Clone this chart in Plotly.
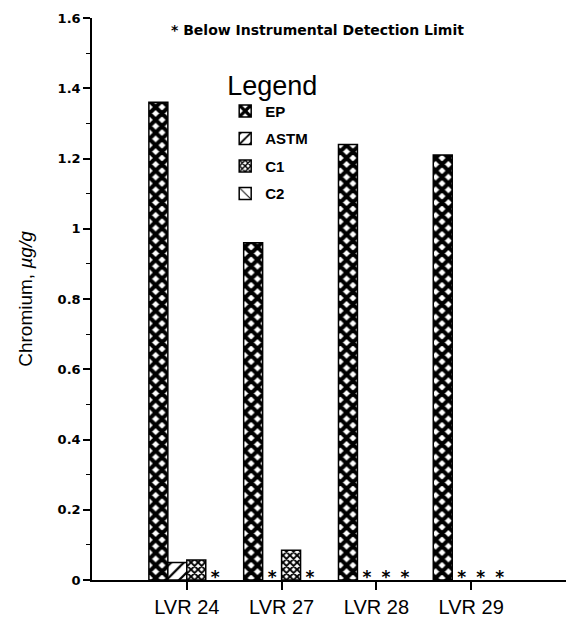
import plotly.graph_objects as go

# Chromium content by sample and extraction method (µg/g); None = below detection limit
samples = ["LVR 24", "LVR 27", "LVR 28", "LVR 29"]
ep = [1.36, 0.96, 1.24, 1.21]
astm = [0.05, None, None, None]
c1 = [0.057, 0.085, None, None]
c2 = [None, None, None, None]

series = [
    ("EP", ep, dict(shape="x", size=9, solidity=0.7)),
    ("ASTM", astm, dict(shape="/", size=9, solidity=0.25)),
    ("C1", c1, dict(shape="x", size=5, solidity=0.6)),
    ("C2", c2, dict(shape="\\", size=14, solidity=0.12)),
]

x_idx = list(range(len(samples)))
n = len(series)
bar_w = 0.2

fig = go.Figure()
for k, (name, vals, pat) in enumerate(series):
    fig.add_trace(go.Bar(
        x=x_idx, y=vals, name=name,
        legendgroup=name,
        marker=dict(color="white",
                    line=dict(color="black", width=1.5),
                    pattern=dict(fgcolor="black", bgcolor="white", fillmode="replace", **pat)),
    ))

# asterisks mark the below-limit results inside each group
ax, ay = [], []
for k, (name, vals, pat) in enumerate(series):
    off = (k - (n - 1) / 2) * bar_w
    for i, v in enumerate(vals):
        if v is None:
            ax.append(i + off)
            ay.append(0.004)
fig.add_trace(go.Scatter(
    x=ax, y=ay, mode="text", text=["*"] * len(ax), textposition="middle center",
    textfont=dict(family="DejaVu Sans", size=17, color="black", weight="bold"),
    showlegend=False, hoverinfo="skip",
))

fig.update_layout(
    width=568, height=621,
    margin=dict(l=92, r=2, t=18, b=41),
    paper_bgcolor="white", plot_bgcolor="white",
    barmode="group", bargap=0.2, bargroupgap=0,
    showlegend=True,
    legend=dict(
        title=dict(text="Legend", font=dict(family="Liberation Sans", size=27, color="black", weight="normal")),
        font=dict(family="Liberation Sans", size=15, color="black", weight="bold"),
        x=0.281, y=0.926, xanchor="left", yanchor="top",
        bgcolor="rgba(0,0,0,0)", tracegroupgap=5,
    ),
    xaxis=dict(
        range=[-1.0, 4.0], tickmode="array", tickvals=x_idx, ticktext=samples,
        showline=True, linecolor="black", linewidth=1.5,
        ticks="outside", ticklen=8, tickwidth=1.5, tickcolor="black",
        tickfont=dict(family="Liberation Sans", size=20, color="black"),
        showgrid=False, zeroline=False,
    ),
    yaxis=dict(
        range=[0, 1.6], tickvals=[0, 0.2, 0.4, 0.6, 0.8, 1.0, 1.2, 1.4, 1.6],
        ticktext=["0", "0.2", "0.4", "0.6", "0.8", "1", "1.2", "1.4", "1.6"],
        showline=True, linecolor="black", linewidth=1.5,
        ticks="outside", ticklen=7, tickwidth=1.5, tickcolor="black",
        minor=dict(dtick=0.1, ticks="outside", ticklen=4, tickwidth=1, tickcolor="black"),
        tickfont=dict(family="DejaVu Sans", size=13, color="black", weight="bold"),
        showgrid=False, zeroline=False,
        title=dict(text="Chromium, <i>µg/g</i>", standoff=20,
                   font=dict(family="Liberation Sans", size=19, color="black")),
    ),
    annotations=[dict(
        text="* Below Instrumental Detection Limit", xref="paper", yref="paper",
        x=0.475, y=0.978, xanchor="center", yanchor="middle", showarrow=False,
        font=dict(family="DejaVu Sans", size=14, color="black", weight="bold"),
    )],
)

fig.write_html("out.html")
